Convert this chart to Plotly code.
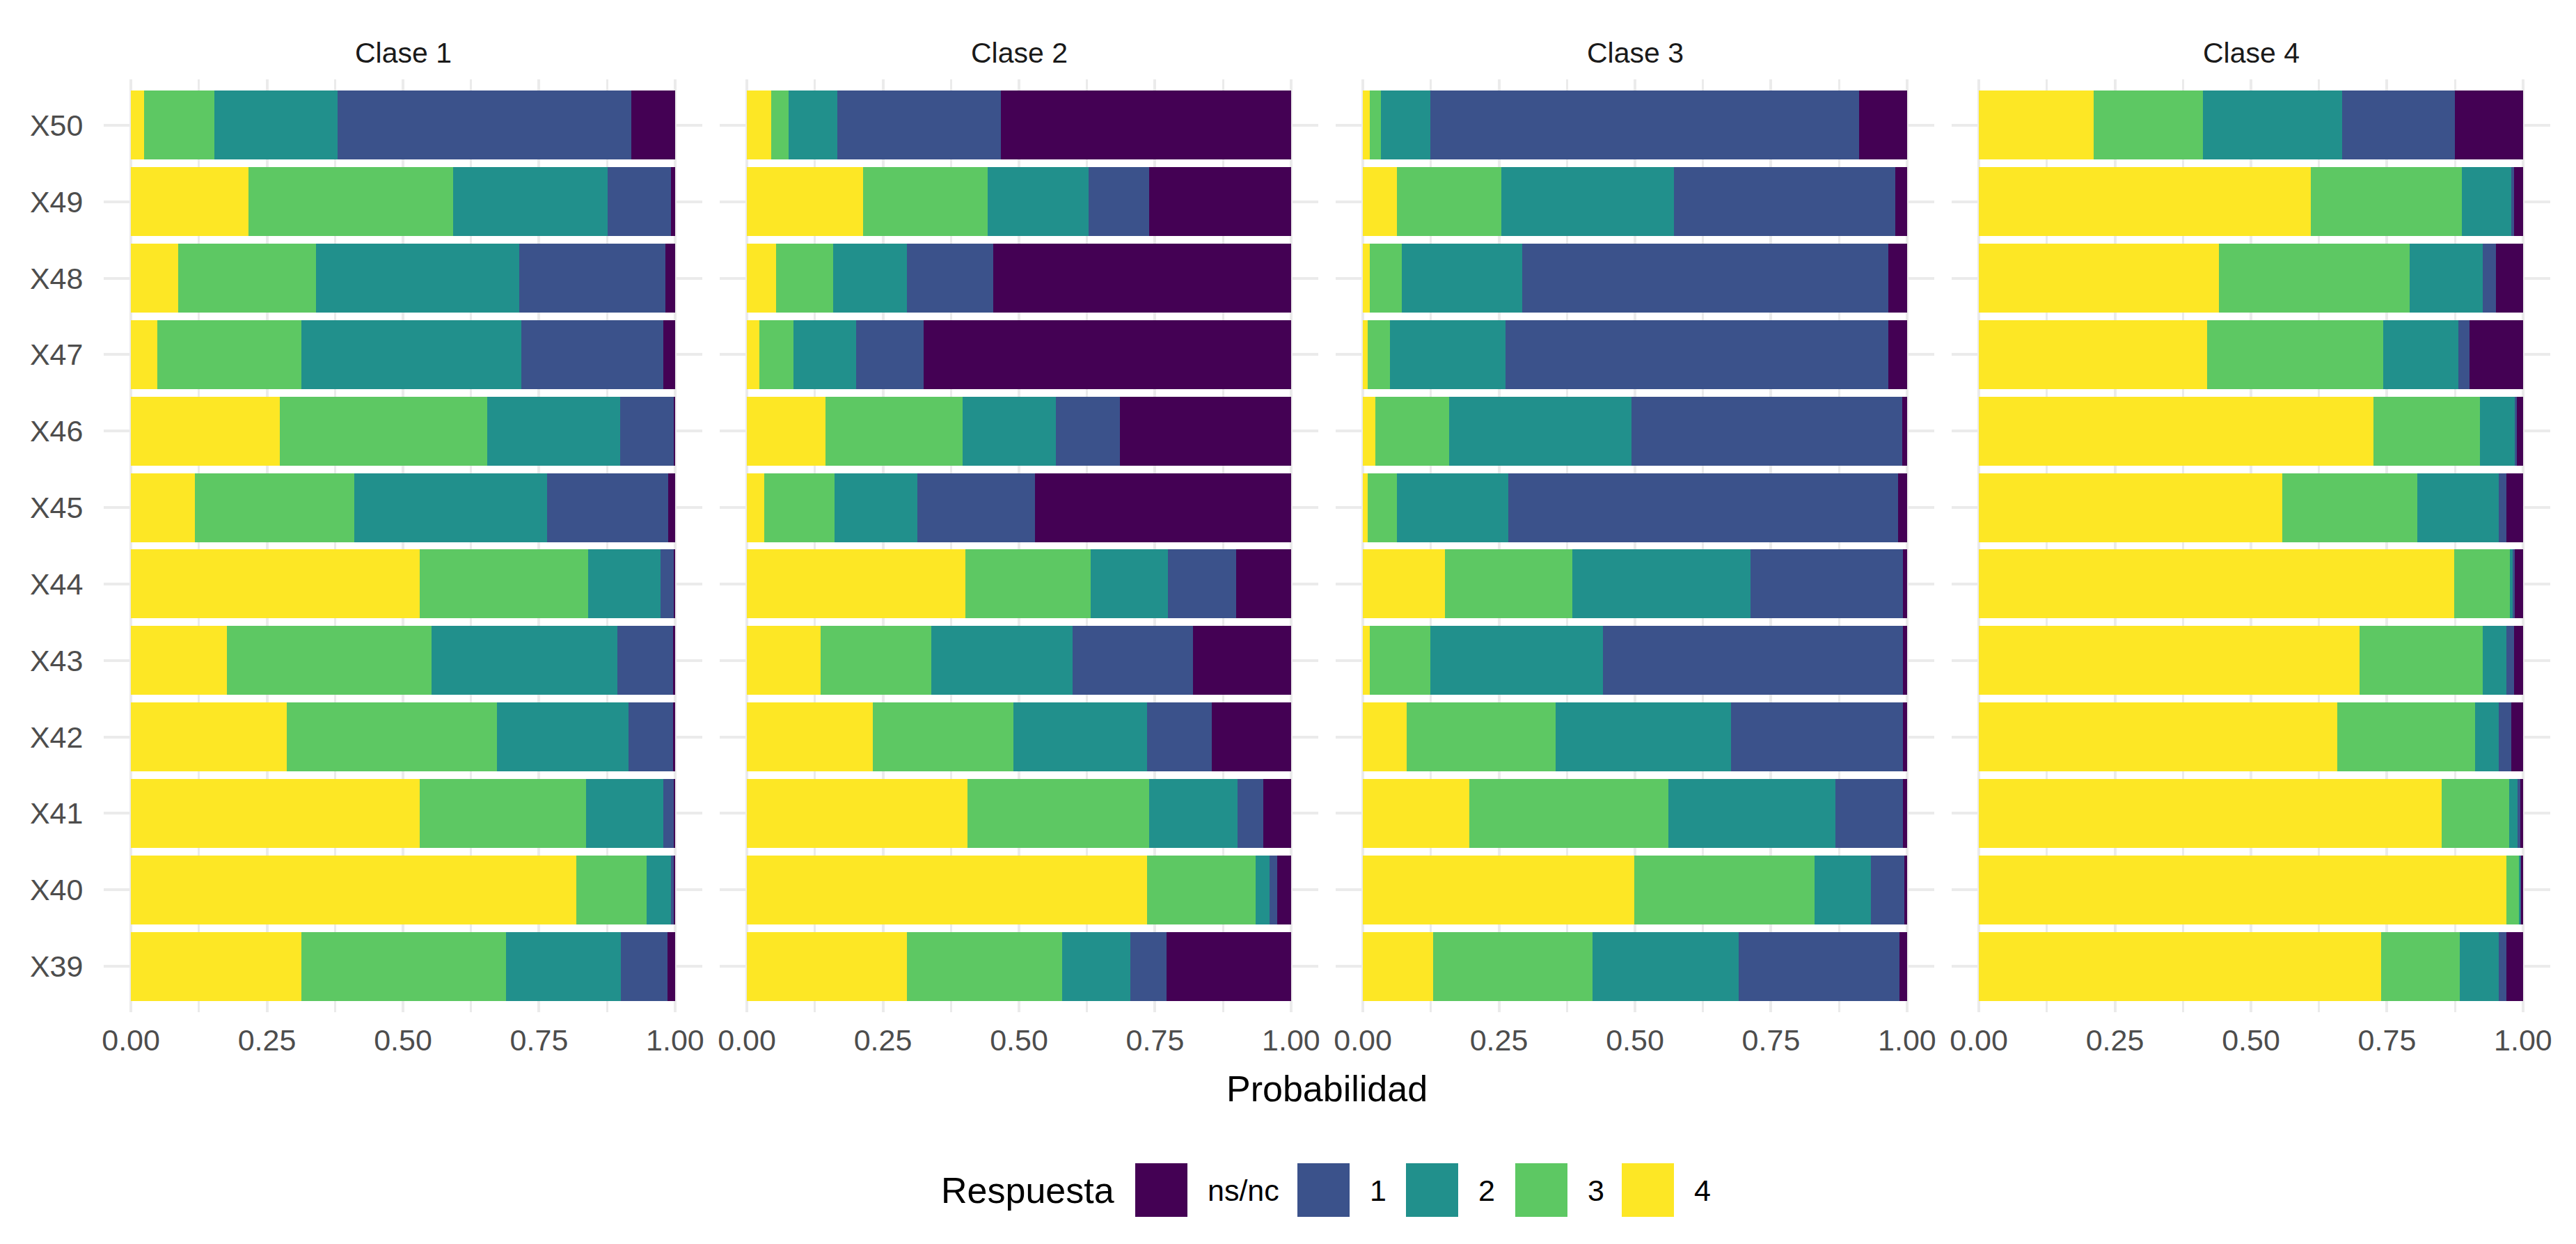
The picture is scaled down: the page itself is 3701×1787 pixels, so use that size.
import plotly.graph_objects as go
from plotly.subplots import make_subplots

# ---------------- data ----------------
items = ["X39", "X40", "X41", "X42", "X43", "X44", "X45", "X46", "X47", "X48", "X49", "X50"]
clases = ["Clase 1", "Clase 2", "Clase 3", "Clase 4"]
respuestas = ["4", "3", "2", "1", "ns/nc"]          # stacking order, left to right
legend_order = ["ns/nc", "1", "2", "3", "4"]
colores = {"ns/nc": "#440154", "1": "#3B528B", "2": "#21908C", "3": "#5DC863", "4": "#FDE725"}

# Clase 1 (items X39..X50)
c1_r4 = [0.313, 0.819, 0.531, 0.286, 0.176, 0.531, 0.117, 0.273, 0.048, 0.087, 0.216, 0.024]
c1_r3 = [0.376, 0.129, 0.306, 0.387, 0.377, 0.309, 0.293, 0.382, 0.265, 0.253, 0.376, 0.130]
c1_r2 = [0.211, 0.044, 0.141, 0.241, 0.341, 0.133, 0.355, 0.244, 0.404, 0.373, 0.284, 0.226]
c1_r1 = [0.086, 0.005, 0.020, 0.082, 0.102, 0.025, 0.222, 0.099, 0.261, 0.269, 0.117, 0.540]
c1_ns = [0.014, 0.003, 0.002, 0.004, 0.004, 0.002, 0.013, 0.002, 0.022, 0.018, 0.007, 0.080]

# Clase 2
c2_r4 = [0.294, 0.735, 0.405, 0.232, 0.135, 0.401, 0.032, 0.144, 0.023, 0.053, 0.214, 0.045]
c2_r3 = [0.285, 0.200, 0.334, 0.258, 0.204, 0.231, 0.129, 0.253, 0.063, 0.105, 0.229, 0.031]
c2_r2 = [0.126, 0.025, 0.163, 0.245, 0.259, 0.142, 0.152, 0.171, 0.115, 0.136, 0.185, 0.090]
c2_r1 = [0.066, 0.014, 0.047, 0.119, 0.222, 0.125, 0.217, 0.117, 0.124, 0.159, 0.111, 0.301]
c2_ns = [0.229, 0.026, 0.051, 0.146, 0.180, 0.101, 0.470, 0.315, 0.675, 0.547, 0.261, 0.533]

# Clase 3
c3_r4 = [0.129, 0.499, 0.196, 0.081, 0.013, 0.151, 0.009, 0.023, 0.009, 0.013, 0.062, 0.013]
c3_r3 = [0.293, 0.331, 0.365, 0.273, 0.111, 0.234, 0.053, 0.136, 0.041, 0.058, 0.192, 0.020]
c3_r2 = [0.269, 0.104, 0.307, 0.323, 0.317, 0.327, 0.205, 0.334, 0.212, 0.222, 0.317, 0.091]
c3_r1 = [0.295, 0.061, 0.124, 0.315, 0.551, 0.280, 0.716, 0.498, 0.703, 0.672, 0.407, 0.788]
c3_ns = [0.014, 0.005, 0.008, 0.008, 0.008, 0.008, 0.017, 0.009, 0.035, 0.035, 0.022, 0.088]

# Clase 4
c4_r4 = [0.739, 0.969, 0.850, 0.658, 0.700, 0.873, 0.557, 0.725, 0.420, 0.441, 0.610, 0.211]
c4_r3 = [0.145, 0.023, 0.125, 0.254, 0.226, 0.103, 0.249, 0.196, 0.323, 0.351, 0.278, 0.201]
c4_r2 = [0.071, 0.003, 0.015, 0.043, 0.044, 0.005, 0.149, 0.064, 0.138, 0.134, 0.091, 0.255]
c4_r1 = [0.015, 0.001, 0.005, 0.023, 0.013, 0.004, 0.015, 0.003, 0.021, 0.024, 0.004, 0.208]
c4_ns = [0.030, 0.004, 0.005, 0.022, 0.017, 0.015, 0.030, 0.012, 0.098, 0.050, 0.017, 0.125]

x_tick_vals = [0, 0.25, 0.5, 0.75, 1.0]
x_tick_text = ["0.00", "0.25", "0.50", "0.75", "1.00"]
x_minor_vals = [0.125, 0.375, 0.625, 0.875]

series = {
    "Clase 1": {"4": c1_r4, "3": c1_r3, "2": c1_r2, "1": c1_r1, "ns/nc": c1_ns},
    "Clase 2": {"4": c2_r4, "3": c2_r3, "2": c2_r2, "1": c2_r1, "ns/nc": c2_ns},
    "Clase 3": {"4": c3_r4, "3": c3_r3, "2": c3_r2, "1": c3_r1, "ns/nc": c3_ns},
    "Clase 4": {"4": c4_r4, "3": c4_r3, "2": c4_r2, "1": c4_r1, "ns/nc": c4_ns},
}

# ---------------- layout geometry (pixels) ----------------
W, H = 3701, 1787
panel_w = 860
panel_step = 885
L, T, B = 141, 106, 1446
R = L + 3 * panel_step + panel_w
PW = R - L
PH = B - T

FONT = "Liberation Sans, Arial, sans-serif"
GRID = "#EBEBEB"


def px_x(px):
    return (px - L) / PW


def px_y(py):
    return (B - py) / PH


fig = make_subplots(rows=1, cols=4, shared_yaxes=True, horizontal_spacing=0.01)

for ci, clase in enumerate(clases):
    for resp in respuestas:
        fig.add_trace(
            go.Bar(
                x=series[clase][resp],
                y=items,
                orientation="h",
                name=resp,
                marker=dict(color=colores[resp], line=dict(width=0)),
                showlegend=False,
                hovertemplate=clase + "<br>%{y}<br>" + resp + ": %{x:.3f}<extra></extra>",
            ),
            row=1, col=ci + 1,
        )

for ci in range(4):
    x0 = ci * panel_step / PW
    x1 = (ci * panel_step + panel_w) / PW
    ax = "xaxis" if ci == 0 else f"xaxis{ci + 1}"
    fig.layout[ax].update(
        domain=[x0, min(x1, 1.0)],
        range=[-0.05, 1.05],
        tickvals=x_tick_vals,
        ticktext=x_tick_text,
        showgrid=True, gridcolor=GRID, gridwidth=3.5,
        minor=dict(tickvals=x_minor_vals, showgrid=True, gridcolor=GRID, gridwidth=2.5, ticks=""),
        zeroline=False, showline=False,
        ticks="outside", ticklen=2, tickcolor="rgba(0,0,0,0)",
        tickfont=dict(family=FONT, size=43, color="#4D4D4D"),
        fixedrange=True,
    )
    ay = "yaxis" if ci == 0 else f"yaxis{ci + 1}"
    fig.layout[ay].update(
        type="category",
        categoryorder="array",
        categoryarray=items,
        range=[-0.6, len(items) - 0.4],
        showgrid=True, gridcolor=GRID, gridwidth=3.5,
        zeroline=False, showline=False,
        showticklabels=(ci == 0),
        ticks="outside" if ci == 0 else "", ticklen=20, tickcolor="rgba(0,0,0,0)",
        tickfont=dict(family=FONT, size=43, color="#4D4D4D"),
        fixedrange=True,
    )
    fig.add_annotation(
        text=clases[ci], xref=("x domain" if ci == 0 else f"x{ci + 1} domain"), x=0.5,
        yref="paper", y=1, yanchor="middle", yshift=T - 68, showarrow=False,
        font=dict(family=FONT, size=41, color="#1A1A1A"),
    )

fig.add_annotation(
    text="Probabilidad", xref="paper", x=0.5, yref="paper", y=0, yanchor="middle",
    yshift=-(1556 - B), showarrow=False, font=dict(family=FONT, size=52, color="#000000"),
)

# ---------------- legend (drawn as keys + text) ----------------
key_left_px = [1623, 1856, 2012, 2169, 2322]
key_w_px = 75
key_top_px, key_bot_px = 1663, 1740
key_mid_y = px_y((key_top_px + key_bot_px) / 2)

fig.add_annotation(
    text="Respuesta", xref="paper", yref="paper", x=px_x(1595), y=key_mid_y,
    xanchor="right", yanchor="middle", showarrow=False,
    font=dict(family=FONT, size=52, color="#000000"),
)
for resp, kx in zip(legend_order, key_left_px):
    fig.add_shape(
        type="rect", xref="paper", yref="paper",
        x0=px_x(kx), x1=px_x(kx + key_w_px), y0=px_y(key_bot_px), y1=px_y(key_top_px),
        fillcolor=colores[resp], line=dict(width=0), layer="above",
    )
    fig.add_annotation(
        text=resp, xref="paper", yref="paper", x=px_x(kx + key_w_px + 27), y=key_mid_y,
        xanchor="left", yanchor="middle", showarrow=False,
        font=dict(family=FONT, size=43, color="#000000"),
    )

fig.update_layout(
    width=W, height=H,
    margin=dict(l=L, r=W - R, t=T, b=H - B, autoexpand=False),
    barmode="stack",
    bargap=0.1,
    plot_bgcolor="white",
    paper_bgcolor="white",
    showlegend=False,
    font=dict(family=FONT),
)

fig.write_html("out.html")
